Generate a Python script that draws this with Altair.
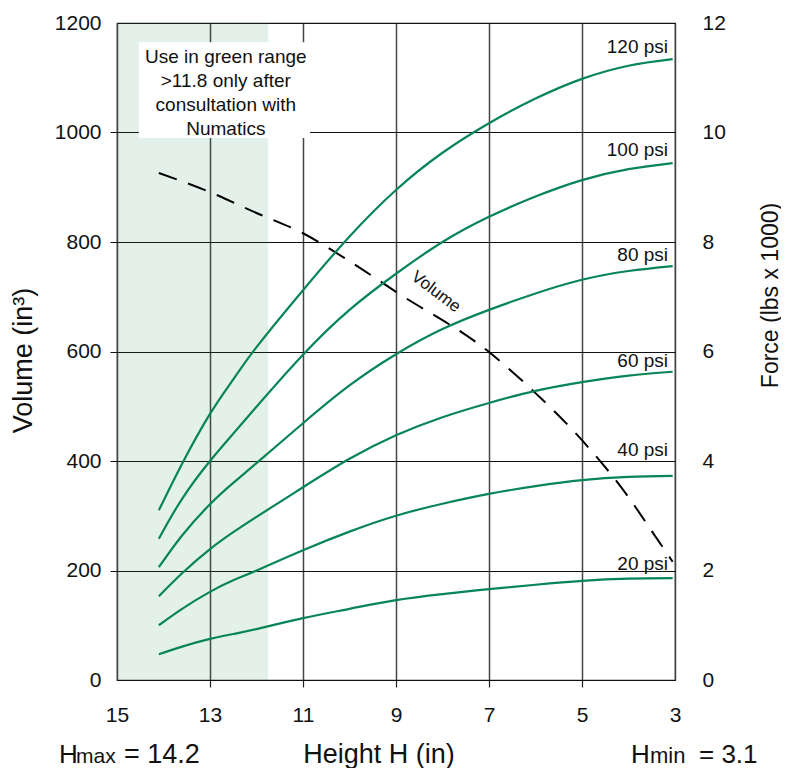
import altair as alt
import pandas as pd

# ---------------- data ----------------
heights = [14.1, 13.6, 13, 12.5, 12, 11, 10, 9, 8, 7, 6, 5, 4, 3.05]
pressures = ["120 psi", "100 psi", "80 psi", "60 psi", "40 psi", "20 psi"]
force_120 = [3.10, 3.95, 4.86, 5.49, 6.08, 7.12, 8.10, 8.95, 9.63, 10.17, 10.62, 10.98, 11.22, 11.34]
force_100 = [2.58, 3.31, 4.00, 4.50, 4.99, 5.94, 6.76, 7.42, 8.00, 8.46, 8.83, 9.13, 9.33, 9.44]
force_80 = [2.06, 2.64, 3.21, 3.60, 3.96, 4.69, 5.38, 5.95, 6.41, 6.76, 7.06, 7.31, 7.47, 7.56]
force_60 = [1.53, 1.95, 2.39, 2.70, 2.98, 3.52, 4.04, 4.47, 4.80, 5.06, 5.28, 5.44, 5.56, 5.63]
force_40 = [1.00, 1.30, 1.61, 1.82, 2.00, 2.37, 2.71, 3.00, 3.22, 3.40, 3.54, 3.65, 3.71, 3.73]
force_20 = [0.47, 0.61, 0.75, 0.84, 0.93, 1.13, 1.30, 1.46, 1.57, 1.66, 1.74, 1.81, 1.85, 1.86]

volume_heights = [14.1, 13, 12, 11, 10, 9, 7, 6, 5, 4, 3.5, 3.05]
volume_values = [926, 891, 853, 816, 765, 709, 599, 524, 438, 334, 272, 216]

x_ticks = [15, 13, 11, 9, 7, 5, 3]
volume_ticks = [0, 200, 400, 600, 800, 1000, 1200]
force_ticks = [0, 2, 4, 6, 8, 10, 12]

green_range = [15, 11.75]
note_lines = ["Use in green range", "\u00a0\u00a0>11.8 only after", "consultation with", "Numatics"]

# ---------------- tables ----------------
series = [force_120, force_100, force_80, force_60, force_40, force_20]
curves = pd.DataFrame(
    [{"h": h, "force": f, "psi": p} for p, vals in zip(pressures, series) for h, f in zip(heights, vals)]
)
vol_df = pd.DataFrame({"h": volume_heights, "vol": volume_values})

FONT = "Liberation Sans"
GREEN = "#078556"
INK = "#111111"

xscale = alt.Scale(domain=[3, 15], reverse=True, nice=False, zero=False)
vscale = alt.Scale(domain=[0, 1200], nice=False, zero=True)
fscale = alt.Scale(domain=[0, 12], nice=False, zero=True)

xaxis = alt.Axis(
    values=x_ticks, title=None, grid=True, gridColor="#444444", gridWidth=1.5,
    domain=False, tickSize=7, tickWidth=1.2, format="d",
    tickColor={"condition": {"test": "datum.value == 15 || datum.value == 3", "value": "transparent"}, "value": "#222222"},
    labelFont=FONT, labelFontSize=21, labelColor=INK, labelPadding=17, labelFlush=False,
)
vaxis = alt.Axis(
    values=volume_ticks, orient="left", title="Volume (in³)", grid=True, gridColor="#111111", gridWidth=1,
    domain=False, tickSize=7, tickWidth=1, format="d",
    tickColor={"condition": {"test": "datum.value == 0 || datum.value == 1200", "value": "transparent"}, "value": "#111111"},
    labelFont=FONT, labelFontSize=21, labelColor=INK, labelPadding=9,
    titleFont=FONT, titleFontSize=27, titleFontWeight="normal", titleColor=INK,
    titleAngle=270, titleX=-94, titleY=337, titleAlign="center", titleBaseline="middle",
)
faxis = alt.Axis(
    values=force_ticks, orient="right", title="Force (lbs x 1000)", grid=False, domain=False, ticks=False,
    format="d",
    labelFont=FONT, labelFontSize=21, labelColor=INK, labelPadding=27, labelAlign="left",
    titleFont=FONT, titleFontSize=23, titleFontWeight="normal", titleColor=INK,
    titleAngle=270, titleX=95, titleY=272, titleAlign="center", titleBaseline="middle",
)


def X(field):
    return alt.X(field, type="quantitative", scale=xscale, axis=xaxis)


def YV(field):
    return alt.Y(field, type="quantitative", scale=vscale, axis=vaxis)


def YF(field):
    return alt.Y(field, type="quantitative", scale=fscale, axis=faxis)


# ---------------- volume-scale layer ----------------
green = alt.Chart(pd.DataFrame({"x1": [green_range[0]], "x2": [green_range[1]], "y1": [0], "y2": [1200]})).mark_rect(
    color="rgb(30,138,80)", opacity=0.12
).encode(x=X("x1"), x2="x2", y=YV("y1"), y2="y2")

note_box = alt.Chart(pd.DataFrame({"x1": [14.53], "x2": [10.85], "y1": [990], "y2": [1165]})).mark_rect(
    color="white"
).encode(x=X("x1"), x2="x2", y=YV("y1"), y2="y2")

note_text = alt.Chart(pd.DataFrame({"x": [12.66], "y": [1138]})).mark_text(
    text=note_lines, font=FONT, fontSize=19, lineHeight=24, align="center", baseline="middle", color=INK
).encode(x=X("x"), y=YV("y"))

vol_line = alt.Chart(vol_df).mark_line(
    color="black", strokeWidth=2, strokeDash=[19, 12], interpolate="monotone"
).encode(x=X("h"), y=YV("vol"))

vol_label = alt.Chart(pd.DataFrame({"x": [8.14], "y": [709], "t": ["Volume"]})).mark_text(
    font=FONT, fontSize=17, angle=37, align="center", baseline="middle", color=INK
).encode(x=X("x"), y=YV("y"), text="t:N")

bottom_items = [
    ("H", -58, 740, 26, "left"),
    ("max", -41, 740, 21, "left"),
    ("= 14.2", 7, 740, 27, "left"),
    ("Height H (in)", 262, 740, 27, "center"),
    ("H", 514, 740, 26, "left"),
    ("min", 533, 740, 22, "left"),
    ("= 3.1", 582, 740, 26, "left"),
]
bottom_marks = [
    alt.Chart(pd.DataFrame({"t": [t]})).mark_text(
        font=FONT, fontSize=s, align=a, baseline="alphabetic", color=INK
    ).encode(x=alt.value(px), y=alt.value(py), text="t:N")
    for t, px, py, s, a in bottom_items
]

layer_vol = alt.layer(green, note_box, note_text, vol_line, vol_label, *bottom_marks)

# ---------------- force-scale layer ----------------
force_lines = alt.Chart(curves).mark_line(
    color=GREEN, strokeWidth=2.2, interpolate="natural"
).encode(x=X("h"), y=YF("force"), detail="psi:N")

label_dy = [-12, -13, -11, -11, -26, -14]
psi_labels = [
    alt.Chart(pd.DataFrame({"x": [3.15], "y": [vals[-1]], "t": [p]})).mark_text(
        font=FONT, fontSize=19, align="right", baseline="middle", color=INK, dy=d
    ).encode(x=X("x"), y=YF("y"), text="t:N")
    for p, vals, d in zip(pressures, series, label_dy)
]

layer_force = alt.layer(force_lines, *psi_labels)

chart = (
    alt.layer(layer_vol, layer_force)
    .resolve_scale(y="independent")
    .properties(
        width=558, height=657,
        autosize=alt.AutoSizeParams(type="none"),
        padding={"left": 109, "top": 15, "right": 106, "bottom": 92},
    )
    .configure_view(stroke="#222222", strokeWidth=1.2)
)

chart.save("out.html", embed_options={"renderer": "svg", "actions": False})
